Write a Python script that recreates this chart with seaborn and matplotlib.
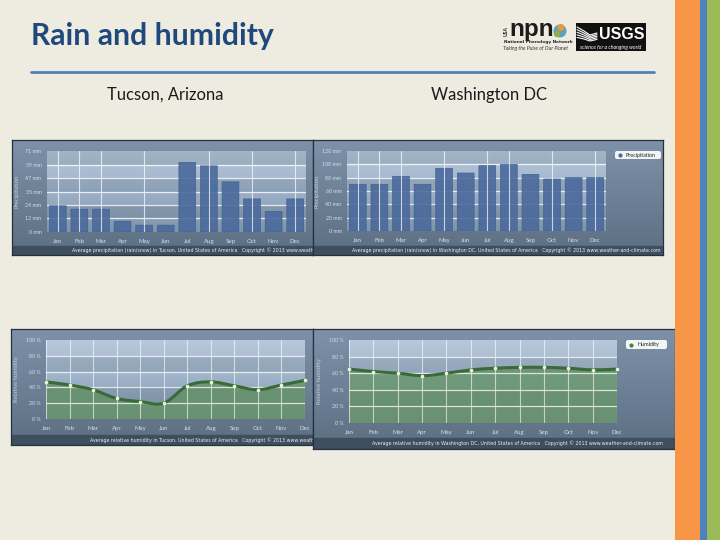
import numpy as np
import matplotlib
matplotlib.use('Agg')
import matplotlib.pyplot as plt
from matplotlib.colors import LinearSegmentedColormap
from matplotlib.patches import Circle, FancyBboxPatch, PathPatch, Rectangle
from matplotlib.path import Path
import seaborn as sns

sns.set_theme(style='white')
plt.rcParams['font.family'] = ['Lato', 'DejaVu Sans']

MONTHS = ['Jan', 'Feb', 'Mar', 'Apr', 'May', 'Jun', 'Jul', 'Aug', 'Sep', 'Oct', 'Nov', 'Dec']

tucson_rain = [23, 20, 20, 9.5, 6, 6, 61, 58, 44, 29, 18, 29]
dc_rain = [70, 70, 82, 70, 94, 87, 98, 100, 85, 78, 80, 80]
tucson_humidity = [47, 43, 37, 26, 22, 20, 42, 47, 42, 37, 43, 49]
dc_humidity = [65, 62, 60, 57, 60, 64, 66, 67, 67, 66, 64, 65]

tucson_rain_ticks = [0, 12, 24, 35, 47, 59, 71]
dc_rain_ticks = [0, 20, 40, 60, 80, 100, 120]
humidity_ticks = [0, 20, 40, 60, 80, 100]

tucson_rain_grid = ['Jan', 'Feb', 'Mar', 'May', 'Aug', 'Oct', 'Dec']
dc_rain_grid = ['Jan', 'Feb', 'Mar', 'May', 'Jul', 'Aug', 'Oct', 'Dec']

BG = '#EEECE1'
panel_cmap = LinearSegmentedColormap.from_list('panel', ['#7d91a8', '#6d8096', '#5c6f82'])
plot_cmap = LinearSegmentedColormap.from_list('plot', ['#b8c8da', '#9db1c8', '#8094a9'])

fig = plt.figure(figsize=(7.2, 5.4), dpi=100, facecolor=BG)


def px_axes(x0, y0, x1, y1, z=1):
    # axes placed by reference pixels (y from the top)
    return fig.add_axes([x0 / 720, 1 - y1 / 540, (x1 - x0) / 720, (y1 - y0) / 540], zorder=z)


def gradient(ax, cmap, z=0):
    xlim, ylim = ax.get_xlim(), ax.get_ylim()
    ax.imshow(np.linspace(0, 1, 64).reshape(-1, 1), cmap=cmap, aspect='auto', zorder=z,
              extent=(0, 1, 0, 1), origin='upper', transform=ax.transAxes)
    ax.set_xlim(xlim)
    ax.set_ylim(ylim)


def panel(box, plot_box, foot_y, foot_x, footer, z):
    x0, y0, x1, y1 = box
    ax = px_axes(x0, y0, x1, y1, z)
    ax.set_xlim(x0, x1)
    ax.set_ylim(y1, y0)
    gradient(ax, panel_cmap)
    ax.add_patch(Rectangle((x0, foot_y), x1 - x0, y1 - foot_y, color='#3e4e5e', zorder=1))
    ax.text(foot_x, (foot_y + y1) / 2, footer, color='#e8edf2', fontsize=3.45, ha='left', va='center',
            clip_on=True, zorder=2, family='DejaVu Sans')
    ax.set_xticks([])
    ax.set_yticks([])
    for s in ax.spines.values():
        s.set_color('#25323d')
        s.set_linewidth(0.9)
    inner = px_axes(*plot_box, z + 0.5)
    inner.patch.set_alpha(0)
    return ax, inner


def style_inner(ax, plot_box, ticks, labels, ylabel, lw_alpha=0.8):
    ax.set_yticks(ticks)
    ax.set_yticklabels(labels)
    ax.tick_params(axis='both', length=2, width=0.5, color='#dfe6ee', labelcolor='#d5dee8',
                   labelsize=4.4, pad=3)
    ax.tick_params(axis='y', labelsize=3.8, pad=2)
    ax.set_ylabel(ylabel, color='#c3cfdb', fontsize=4.3)
    ax.yaxis.set_label_coords(-27 / (plot_box[2] - plot_box[0]), 0.5)
    ax.set_xlabel('')
    for s in ax.spines.values():
        s.set_visible(False)
    for t in ticks[1:-1]:
        ax.axhline(t, color='white', lw=0.9, alpha=lw_alpha, zorder=2)
    # darker alternating bands
    for a, b in zip(ticks[1::2], ticks[2::2]):
        ax.axhspan(a, b, color='#4e6478', alpha=0.2, lw=0, zorder=1)


def rain_panel(box, plot_box, foot_y, foot_x, footer, values, ticks, grid_months, z):
    _, ax = panel(box, plot_box, foot_y, foot_x, footer, z)
    ax.set_xlim(-0.5, 11.5)
    ax.set_ylim(ticks[0], ticks[-1])
    gradient(ax, plot_cmap)
    sns.barplot(x=MONTHS, y=values, ax=ax, color='#4a6a9c', width=0.78, saturation=1, zorder=4)
    for bar in ax.patches:
        bar.set_alpha(0.9)
        bar.set_edgecolor('#3f5f92')
        bar.set_linewidth(0.5)
        bar.set_snap(False)
    style_inner(ax, plot_box, ticks, [f'{t} mm' for t in ticks], 'Precipitation')
    ax.set_xlim(-0.5, 11.5)
    ax.set_ylim(ticks[0], ticks[-1])
    for m in grid_months:
        ax.axvline(MONTHS.index(m), color='white', lw=0.8, alpha=0.7, zorder=5)
    return ax


def smooth_path(xs, ys, closed_to=None):
    # cubic segments through the data points, matplotlib draws the curve
    xs = np.asarray(xs, dtype=float)
    ys = np.asarray(ys, dtype=float)
    slope = np.gradient(ys, xs)
    verts = [(xs[0], ys[0])]
    codes = [Path.MOVETO]
    for i in range(len(xs) - 1):
        h = (xs[i + 1] - xs[i]) / 3
        verts += [(xs[i] + h, ys[i] + slope[i] * h), (xs[i + 1] - h, ys[i + 1] - slope[i + 1] * h),
                  (xs[i + 1], ys[i + 1])]
        codes += [Path.CURVE4] * 3
    if closed_to is not None:
        verts += [(xs[-1], closed_to), (xs[0], closed_to), (xs[0], ys[0])]
        codes += [Path.LINETO, Path.LINETO, Path.CLOSEPOLY]
    return Path(verts, codes)


def humidity_panel(box, plot_box, foot_y, foot_x, footer, values, z):
    _, ax = panel(box, plot_box, foot_y, foot_x, footer, z)
    xs = np.arange(len(MONTHS))
    ax.set_xlim(0, 11)
    ax.set_ylim(0, 100)
    gradient(ax, plot_cmap)
    style_inner(ax, plot_box, humidity_ticks, [f'{t} %' for t in humidity_ticks], 'Relative humidity', 0.75)
    ax.add_patch(PathPatch(smooth_path(xs, values, closed_to=0), facecolor='#5f8f5c', edgecolor='none',
                           alpha=0.72, zorder=1.5))
    ax.add_patch(PathPatch(smooth_path(xs, values), facecolor='none', edgecolor='#3a6a38', lw=2.2, zorder=3))
    sns.scatterplot(x=xs, y=values, ax=ax, color='#e6f6d2', s=7, linewidth=0, zorder=5, clip_on=False)
    for x in xs:
        ax.axvline(x, color='white', lw=0.8, alpha=0.6, zorder=2)
    ax.set_xticks(xs)
    ax.set_xticklabels(MONTHS)
    ax.set_xlim(0, 11)
    ax.set_ylim(0, 100)
    return ax


rain_panel((12, 140, 313, 255), (47, 151, 306, 232), 246, 72,
           'Average precipitation (rain/snow) in Tucson, United States of America   Copyright © 2013 www.weather-and-climate.com',
           tucson_rain, tucson_rain_ticks, tucson_rain_grid, 2)
rain_panel((313, 140, 663, 255), (347, 151, 606, 231), 246, 352,
           'Average precipitation (rain/snow) in Washington DC, United States of America   Copyright © 2013 www.weather-and-climate.com',
           dc_rain, dc_rain_ticks, dc_rain_grid, 3)
humidity_panel((11, 329, 313, 445), (46, 340, 305, 419), 435, 90,
               'Average relative humidity in Tucson, United States of America   Copyright © 2013 www.weather-and-climate.com',
               tucson_humidity, 4)
humidity_panel((313, 329, 675, 449), (349, 340, 617, 423), 438, 372,
               'Average relative humidity in Washington DC, United States of America   Copyright © 2013 www.weather-and-climate.com',
               dc_humidity, 5)

# slide furniture in pixel coordinates
top = px_axes(0, 0, 720, 540, 10)
top.set_xlim(0, 720)
top.set_ylim(540, 0)
top.axis('off')
top.patch.set_alpha(0)

top.add_patch(Rectangle((675, 0), 25, 540, color='#F79646', lw=0))
top.add_patch(Rectangle((700, 0), 7, 540, color='#4F81BD', lw=0))
top.add_patch(Rectangle((707, 0), 13, 540, color='#9BBB59', lw=0))

top.text(31, 36, 'Rain and humidity', fontsize=21.7, fontweight='bold', color='#1F497D', va='center')
top.plot([31, 654], [72, 72], color='#4F81BD', lw=2)
top.text(165, 95, 'Tucson, Arizona', fontsize=11.9, color='#1a1a1a', ha='center', va='center')
top.text(489, 95, 'Washington DC', fontsize=11.9, color='#1a1a1a', ha='center', va='center')


def legend_box(x0, y0, x1, y1, label, color):
    top.add_patch(FancyBboxPatch((x0 + 2, y0 + 2), x1 - x0 - 4, y1 - y0 - 4, boxstyle='round,pad=2',
                                 facecolor='#f2f4f6', edgecolor='none'))
    top.plot([x0 + 5], [(y0 + y1) / 2], 'o', ms=2, color=color)
    top.text(x0 + 11, (y0 + y1) / 2, label, fontsize=3.9, color='#222222', va='center')


legend_box(615, 151, 661, 159, 'Precipitation', '#4a6a9c')
legend_box(626, 340, 667, 349, 'Humidity', '#4d7f3c')

# npn logo
top.text(506, 31, 'USA', fontsize=3.6, fontweight='bold', rotation=90, ha='center', va='center', color='#222222')
top.text(509, 29.5, 'npn', fontsize=17.5, fontweight='bold', color='#1c1c1c', va='center', family='Liberation Sans')
top.add_patch(Circle((560, 31), 6.5, color='#5f9fc0', lw=0))
top.add_patch(Circle((561, 27.5), 3.5, color='#e59a3c', lw=0))
top.add_patch(Circle((557, 34), 3.2, color='#8bb04a', lw=0))
top.text(504, 41.5, 'National Phenology Network', fontsize=3.1, fontweight='bold', color='#222222', va='center',
         family='DejaVu Sans')
top.text(503, 48.5, 'Taking the Pulse of Our Planet', fontsize=3.7, style='italic', color='#333333', va='center')

# USGS logo
top.add_patch(Rectangle((576, 23), 70, 28, color='#111111', lw=0))
for k in range(5):
    top.plot([577, 584, 590, 597], [27 + k * 2.6, 31 + k * 2, 35 + k * 1.5, 33 + k * 1.6], color='white', lw=0.8)
top.text(621.5, 34.5, 'USGS', fontsize=11.5, fontweight='bold', color='white', ha='center', va='center',
         family='Liberation Sans')
top.text(611, 47, 'science for a changing world', fontsize=3.8, style='italic', color='white', ha='center', va='center')

fig.savefig('out.png', dpi=100, facecolor=BG)
